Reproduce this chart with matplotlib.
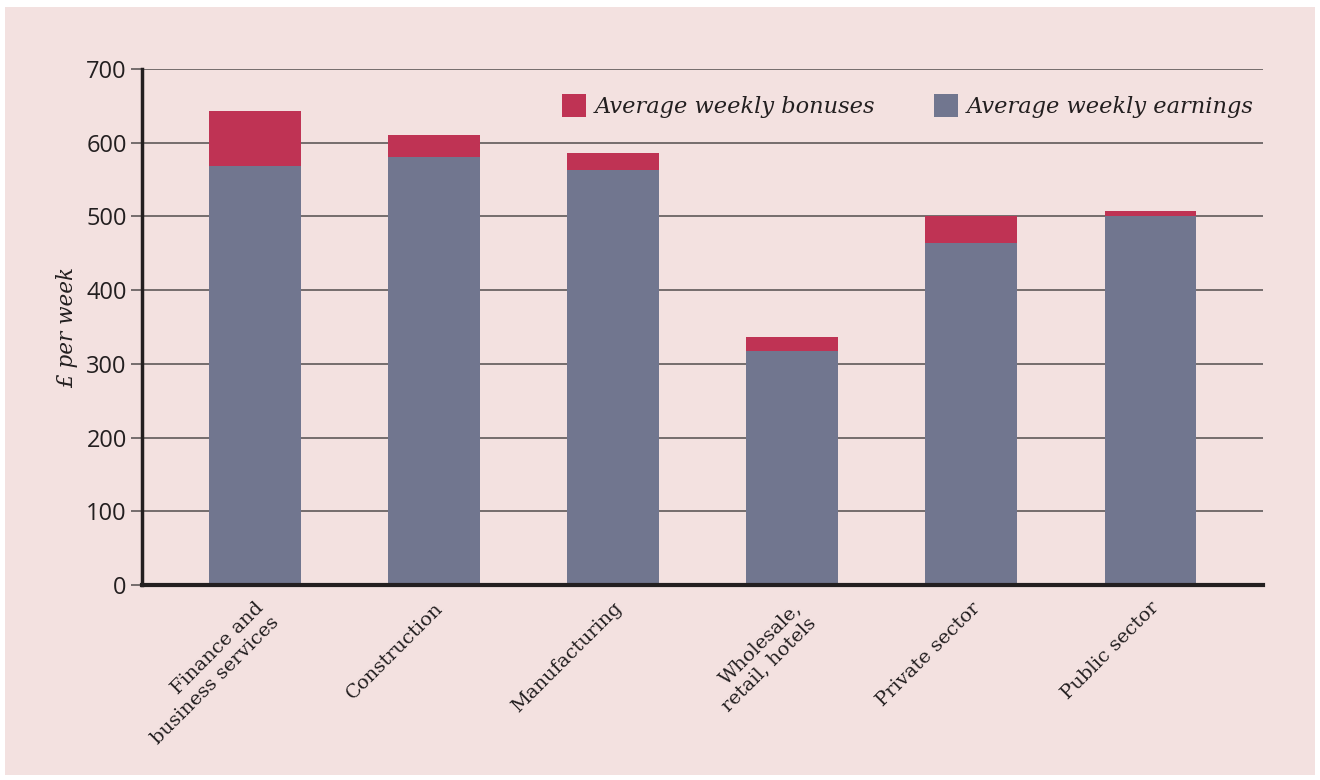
import matplotlib
matplotlib.use("Agg")
import matplotlib.pyplot as plt
from matplotlib.patches import Rectangle
import numpy as np

# Dados
categorias = ["Finance and\nbusiness services", "Construction", "Manufacturing",
              "Wholesale,\nretail, hotels", "Private sector", "Public sector"]
ganhos = [568, 580, 563, 317, 464, 500]
bonus = [75, 30, 23, 20, 37, 7]

# Cores
cor_fundo = "#f3e1e0"
cor_bonus = "#bf3354"
cor_ganhos = "#71768f"
cor_texto = "#231f20"

fig = plt.figure(figsize=(13.2, 7.8), dpi=100)
fig.patch.set_facecolor("white")
fig.add_artist(Rectangle((5/1320, 5/780), 1310/1320, 768/780,
                         transform=fig.transFigure, facecolor=cor_fundo,
                         edgecolor="none", zorder=-10))

ax = fig.add_axes([0.1076, 0.25, 0.8492, 0.6615])
ax.set_facecolor("none")

x = np.arange(len(categorias))
largura = 0.51
ax.bar(x, ganhos, largura, color=cor_ganhos, zorder=3, label="Average weekly earnings")
ax.bar(x, bonus, largura, bottom=ganhos, color=cor_bonus, zorder=3, label="Average weekly bonuses")

ax.set_xlim(-0.63, 5.63)
ax.set_ylim(0, 700)
ax.set_yticks(range(0, 701, 100))

# Grade
for v in range(100, 701, 100):
    ax.axhline(v, color="#524d4d", linewidth=1.1, zorder=1)

for lado in ["top", "right"]:
    ax.spines[lado].set_visible(False)
ax.spines["left"].set_linewidth(2.5)
ax.spines["left"].set_color(cor_texto)
ax.spines["bottom"].set_linewidth(3)
ax.spines["bottom"].set_color(cor_texto)
ax.spines["left"].set_zorder(4)
ax.spines["bottom"].set_zorder(4)

ax.tick_params(axis="y", length=8, width=1.1, color="#524d4d", pad=3,
               labelsize=17, labelcolor=cor_texto)
for t in ax.get_yticklabels():
    t.set_fontfamily("Open Sans")
ax.tick_params(axis="x", length=0, pad=10)
ax.set_xticks(x)
ax.set_xticklabels(categorias, rotation=45, ha="right", rotation_mode="anchor",
                   fontsize=14, family="DejaVu Serif", color=cor_texto,
                   multialignment="right")

ax.set_ylabel("£ per week", fontsize=15.5, style="italic", family="DejaVu Serif",
              color=cor_texto, labelpad=6)

h, l = ax.get_legend_handles_labels()
leg = ax.legend(h[::-1], l[::-1], ncol=2, loc="upper right", frameon=False,
                bbox_to_anchor=(1.0, 0.97), handlelength=1.07, handleheight=1.25,
                handletextpad=0.4, columnspacing=2.6, borderaxespad=0.0,
                prop={"family": "DejaVu Serif", "style": "italic", "size": 16.2})
for t in leg.get_texts():
    t.set_color(cor_texto)

fig.savefig("out.png", dpi=100, facecolor=fig.get_facecolor())
